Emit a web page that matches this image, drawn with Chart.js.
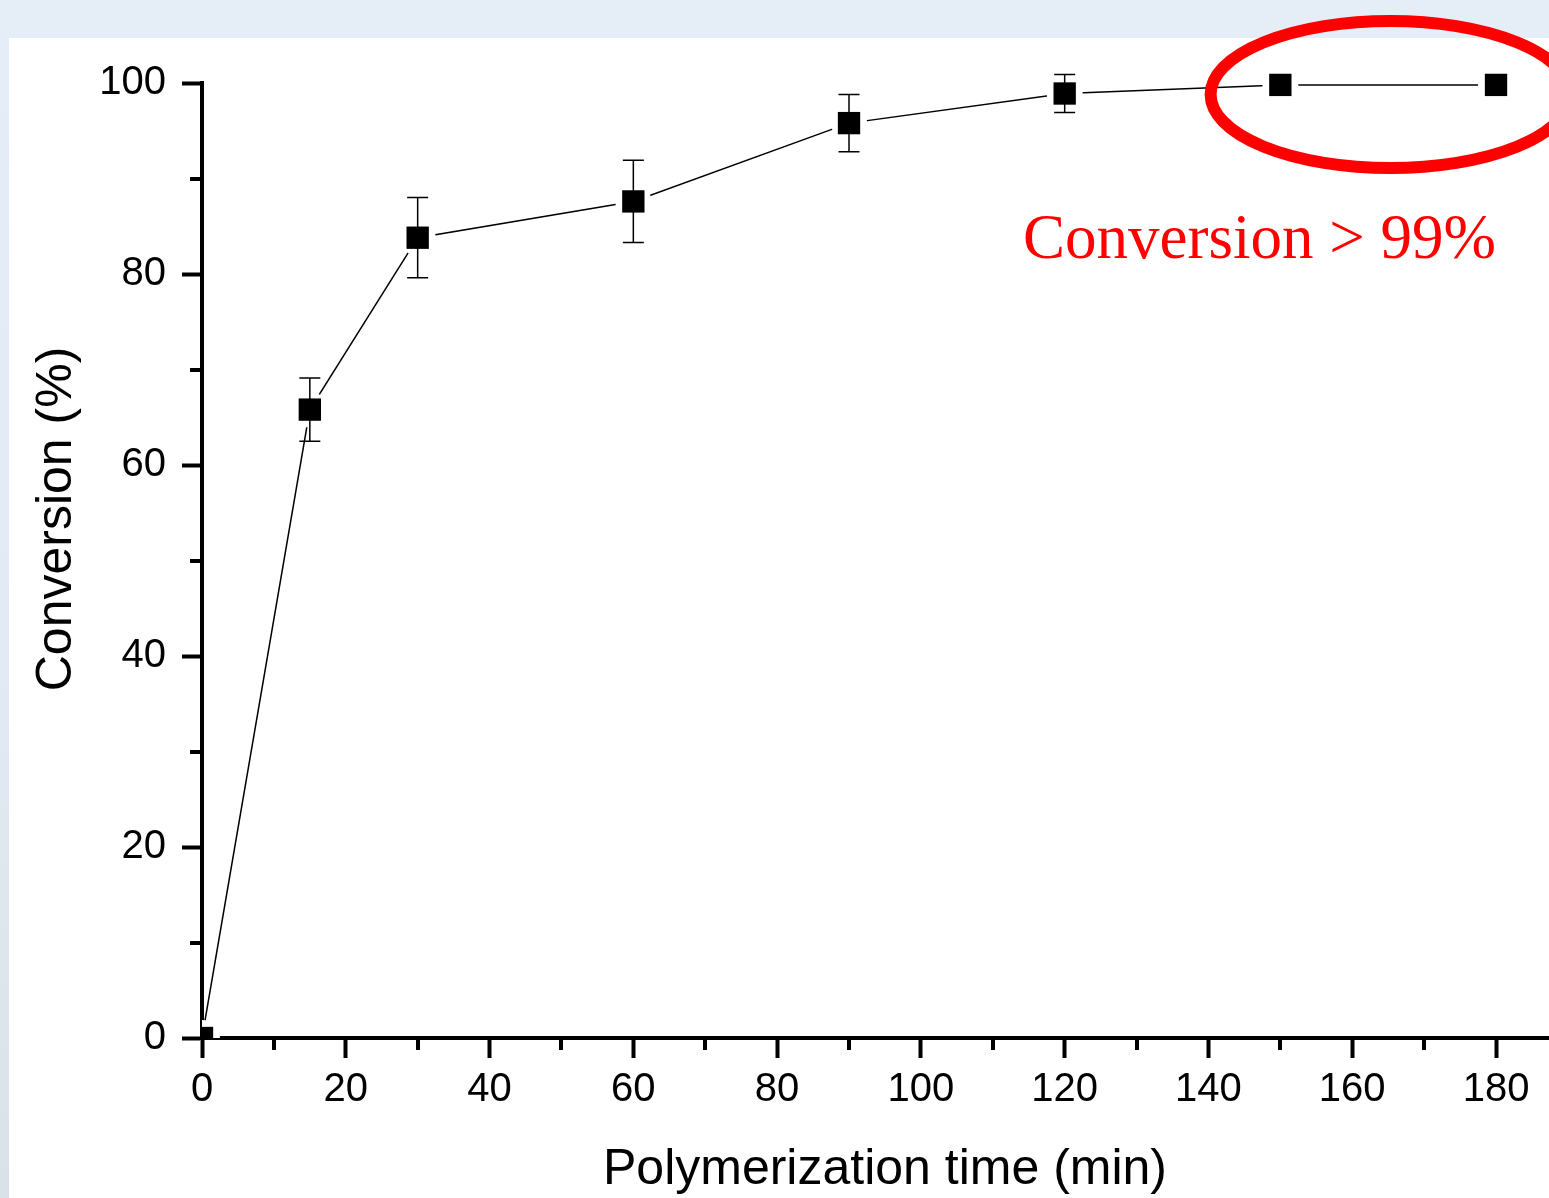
<!DOCTYPE html>
<html><head><meta charset="utf-8">
<script src="https://cdn.jsdelivr.net/npm/chart.js@4/dist/chart.umd.min.js"></script>
<style>
html,body{margin:0;padding:0;width:1549px;height:1198px;overflow:hidden;}
body{background:linear-gradient(#e5edf6,#e3eaf3 55%,#dbe1e8);position:relative;}
#panel{position:absolute;left:9px;top:38px;right:0;bottom:0;background:#fff;}
#c{position:absolute;left:0;top:0;}
</style></head><body>
<div id="panel"></div>
<canvas id="c" width="1549" height="1198"></canvas>
<script>
// ---- data ----
const times      = [0, 15, 30, 60, 90, 120, 150, 180];
const conversion = [0, 65.8, 83.8, 87.6, 95.8, 98.9, 99.8, 99.8];
const errors     = [0, 3.3, 4.2, 4.3, 3.0, 2.0, 0, 0];
const xTickValues  = [0, 20, 40, 60, 80, 100, 120, 140, 160, 180];
const xMinorValues = [10, 30, 50, 70, 90, 110, 130, 150, 170];
const yTickValues  = [0, 20, 40, 60, 80, 100];
const yMinorValues = [10, 30, 50, 70, 90];
const xTitle = 'Polymerization time (min)';
const yTitle = 'Conversion (%)';
const noteText = 'Conversion > 99%';

const points = times.map((t, i) => ({x: t, y: conversion[i]}));
const SANS = "'Liberation Sans', Arial, sans-serif";
const SERIF = "'Liberation Serif', 'Times New Roman', serif";
const clipOpt = {left: 0, bottom: 0, top: false, right: false};

const extras = {
  id: 'extras',
  afterDatasetsDraw(chart) {
    const {ctx, scales: {x, y}} = chart;
    ctx.save();
    ctx.strokeStyle = '#000';
    ctx.lineWidth = 1.5;
    points.forEach((p, i) => {
      const e = errors[i];
      if (!e) return;
      const px = x.getPixelForValue(p.x);
      const yt = y.getPixelForValue(p.y + e);
      const yb = y.getPixelForValue(p.y - e);
      ctx.beginPath();
      ctx.moveTo(px, yt); ctx.lineTo(px, yb);
      ctx.moveTo(px - 10.5, yt); ctx.lineTo(px + 10.5, yt);
      ctx.moveTo(px - 10.5, yb); ctx.lineTo(px + 10.5, yb);
      ctx.stroke();
    });
    ctx.restore();
  },
  afterDraw(chart) {
    const {ctx, scales: {x, y}, chartArea} = chart;
    ctx.save();
    // minor ticks
    ctx.strokeStyle = '#000';
    ctx.lineWidth = 4;
    ctx.beginPath();
    xMinorValues.forEach(v => {
      const px = Math.round(x.getPixelForValue(v));
      ctx.moveTo(px, chartArea.bottom); ctx.lineTo(px, chartArea.bottom + 12);
    });
    yMinorValues.forEach(v => {
      const py = Math.round(y.getPixelForValue(v));
      ctx.moveTo(chartArea.left, py); ctx.lineTo(chartArea.left - 12, py);
    });
    ctx.stroke();
    // axis titles
    ctx.fillStyle = '#000';
    ctx.font = '50px ' + SANS;
    ctx.textAlign = 'center';
    ctx.textBaseline = 'alphabetic';
    ctx.fillText(xTitle, 885, 1184);
    ctx.save();
    ctx.translate(71, 519);
    ctx.rotate(-Math.PI / 2);
    ctx.fillText(yTitle, 0, 0);
    ctx.restore();
    // highlight ellipse around the plateau points
    const cx = x.getPixelForValue(165.3);
    const cy = y.getPixelForValue(98.8);
    const rx = x.getPixelForValue(25) - x.getPixelForValue(0);
    const ry = y.getPixelForValue(0) - y.getPixelForValue(7.7);
    ctx.strokeStyle = '#ff0000';
    ctx.lineWidth = 12;
    ctx.beginPath();
    ctx.ellipse(cx, cy, rx, ry, 0, 0, Math.PI * 2);
    ctx.stroke();
    // note text
    ctx.fillStyle = '#ff0000';
    ctx.font = '63px ' + SERIF;
    ctx.textAlign = 'left';
    ctx.fillText(noteText, x.getPixelForValue(114.2), y.getPixelForValue(81.7));
    ctx.restore();
  }
};

new Chart(document.getElementById('c'), {
  type: 'scatter',
  data: {
    datasets: [
      { label: 'line', data: points, showLine: true, borderColor: '#000', borderWidth: 1.5,
        pointRadius: 0, pointHoverRadius: 0, order: 3, clip: clipOpt },
      { label: 'gap', data: points, showLine: false, pointStyle: 'circle', pointRadius: 18,
        pointBackgroundColor: '#fff', pointBorderWidth: 0, pointHoverRadius: 18, order: 2, clip: clipOpt },
      { label: 'Conversion', data: points, showLine: false, pointStyle: 'rect', pointRadius: 15.8,
        pointBackgroundColor: '#000', pointBorderColor: '#000', pointBorderWidth: 0, pointHoverRadius: 15.8,
        order: 1, clip: clipOpt }
    ]
  },
  options: {
    responsive: false,
    animation: false,
    devicePixelRatio: 1,
    events: [],
    layout: { autoPadding: false, padding: { top: 83, left: 0, right: 0, bottom: 0 } },
    plugins: { legend: { display: false }, tooltip: { enabled: false } },
    scales: {
      x: {
        type: 'linear', min: 0, max: 187.37, z: 1,
        border: { display: true, color: '#000', width: 4 },
        grid: { display: true, drawOnChartArea: false, drawTicks: true, tickLength: 20, tickWidth: 4, tickColor: '#000' },
        ticks: { color: '#000', font: { family: SANS, size: 40 }, padding: 8, maxRotation: 0, autoSkip: false },
        afterBuildTicks: s => { s.ticks = xTickValues.map(v => ({ value: v })); },
        afterFit: s => { s.height = 160; s.paddingLeft = 0; s.paddingRight = 0; }
      },
      y: {
        type: 'linear', min: 0, max: 100, z: 1,
        border: { display: true, color: '#000', width: 4 },
        grid: { display: true, drawOnChartArea: false, drawTicks: true, tickLength: 20, tickWidth: 4, tickColor: '#000' },
        ticks: { color: '#000', font: { family: SANS, size: 40 }, padding: 16, autoSkip: false },
        afterBuildTicks: s => { s.ticks = yTickValues.map(v => ({ value: v })); },
        afterFit: s => { s.width = 202; s.paddingTop = 0; s.paddingBottom = 0; }
      }
    }
  },
  plugins: [extras]
});
</script>
</body></html>
